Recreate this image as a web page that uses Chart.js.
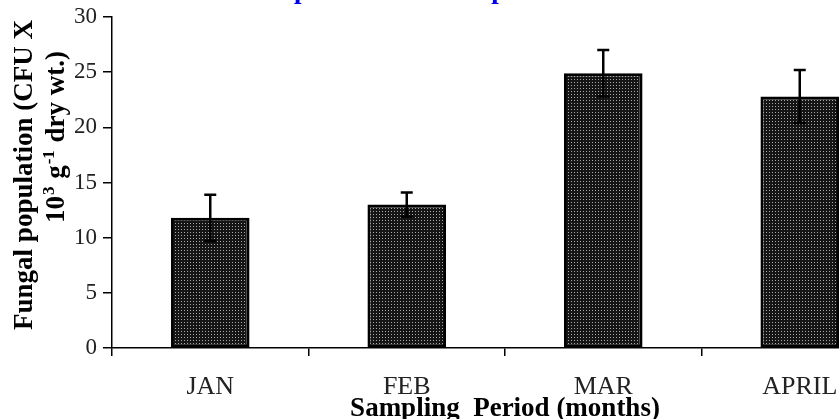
<!DOCTYPE html>
<html>
<head>
<meta charset="utf-8">
<script src="https://cdn.jsdelivr.net/npm/chart.js@4.4.1/dist/chart.umd.min.js"></script>
<style>
    html, body { margin: 0; padding: 0; background: #fff; overflow: hidden; }
    #wrap { width: 839px; height: 419px; overflow: hidden; }
</style>
</head>
<body>
<div id="wrap"><canvas id="chart" width="900" height="419"></canvas></div>
<script>
// --- Data ---
const months = ["JAN", "FEB", "MAR", "APRIL"];
const fungalMean = [11.8, 13.0, 24.9, 22.8];
const fungalError = [2.1, 1.1, 2.1, 2.4];
const yTickValues = [0, 5, 10, 15, 20, 25, 30];

const chartTitle = "Mould counts in compost and soil samples";
const yTitleLine1 = "Fungal population (CFU X";
const xTitle = "Sampling  Period (months)";

const serif = "'Liberation Serif', 'Times New Roman', 'DejaVu Serif', serif";

// dotted dark fill like the printed bars
function makeDotPattern() {
    const tile = document.createElement("canvas");
    tile.width = 3;
    tile.height = 3;
    const t = tile.getContext("2d");
    t.fillStyle = "#151515";
    t.fillRect(0, 0, 3, 3);
    t.fillStyle = "#a8a8a8";
    t.fillRect(1, 1, 1, 1);
    return document.getElementById("chart").getContext("2d").createPattern(tile, "repeat");
}

// error bars drawn from the y scale
const errorBars = {
    id: "errorBars",
    afterDatasetsDraw(chart) {
        const ctx = chart.ctx;
        const yScale = chart.scales.y;
        const meta = chart.getDatasetMeta(0);
        ctx.save();
        ctx.strokeStyle = "#000";
        ctx.lineWidth = 2.5;
        meta.data.forEach((bar, i) => {
            const top = yScale.getPixelForValue(fungalMean[i] + fungalError[i]);
            const bottom = yScale.getPixelForValue(fungalMean[i] - fungalError[i]);
            const half = 6;
            ctx.beginPath();
            ctx.moveTo(bar.x, top);
            ctx.lineTo(bar.x, bottom);
            ctx.moveTo(bar.x - half, top);
            ctx.lineTo(bar.x + half, top);
            ctx.moveTo(bar.x - half, bottom);
            ctx.lineTo(bar.x + half, bottom);
            ctx.stroke();
        });
        ctx.restore();
    }
};

// titles that sit partly outside the plot (top title is cut off in the source)
const extraText = {
    id: "extraText",
    afterDraw(chart) {
        const ctx = chart.ctx;
        ctx.save();

        // top title, only the descenders show
        ctx.font = "bold 27px " + serif;
        ctx.fillStyle = "#0000ee";
        ctx.textAlign = "left";
        ctx.textBaseline = "alphabetic";
        const pre = ctx.measureText("Mould counts in com").width;
        ctx.fillText(chartTitle, 294 - pre, -2);

        // y axis title, two lines rotated
        ctx.fillStyle = "#000";
        ctx.translate(25, 175);
        ctx.rotate(-Math.PI / 2);
        ctx.textAlign = "center";
        ctx.textBaseline = "middle";
        ctx.fillText(yTitleLine1, 0, 0);
        ctx.rotate(Math.PI / 2);
        ctx.translate(-25, -175);

        // second line with superscripts
        const segs = [
            { t: "10", sup: false },
            { t: "3", sup: true },
            { t: " g", sup: false },
            { t: "-1", sup: true },
            { t: " dry wt.)", sup: false }
        ];
        const big = "bold 27px " + serif;
        const small = "bold 17px " + serif;
        let total = 0;
        segs.forEach(s => {
            ctx.font = s.sup ? small : big;
            s.w = ctx.measureText(s.t).width;
            total += s.w;
        });
        ctx.translate(55, 135);
        ctx.rotate(-Math.PI / 2);
        ctx.textAlign = "left";
        ctx.textBaseline = "alphabetic";
        let x = -total / 2 - 4;
        segs.forEach(s => {
            ctx.font = s.sup ? small : big;
            ctx.fillText(s.t, x, s.sup ? -1 : 9);
            x += s.w + 1;
        });
        ctx.restore();
    }
};

const ctx = document.getElementById("chart").getContext("2d");
new Chart(ctx, {
    type: "bar",
    data: {
        labels: months,
        datasets: [{
            data: fungalMean,
            backgroundColor: makeDotPattern(),
            borderColor: "#000",
            borderWidth: 3,
            borderSkipped: false,
            categoryPercentage: 1,
            barPercentage: 0.4
        }]
    },
    options: {
        responsive: false,
        animation: false,
        devicePixelRatio: 1,
        layout: { padding: { left: 0, top: 17, right: 2, bottom: 0 } },
        plugins: {
            legend: { display: false },
            tooltip: { enabled: false },
            title: { display: false }
        },
        scales: {
            x: {
                grid: {
                    offset: true,
                    drawOnChartArea: false,
                    tickLength: 8,
                    color: "#000",
                    lineWidth: 1.5
                },
                border: { color: "#000", width: 1.5 },
                ticks: {
                    color: "#222",
                    padding: 16,
                    font: { family: serif, size: 26 }
                },
                title: {
                    display: true,
                    text: xTitle,
                    color: "#000",
                    padding: { top: 0, bottom: -4 },
                    font: { family: serif, size: 27, weight: "bold", lineHeight: 1 }
                },
                afterFit(scale) {
                    scale.height = 71;
                    scale.paddingLeft = 0;
                    scale.paddingRight = 0;
                }
            },
            y: {
                min: 0,
                max: 30,
                afterBuildTicks(scale) {
                    scale.ticks = yTickValues.map(v => ({ value: v }));
                },
                grid: {
                    drawOnChartArea: false,
                    tickLength: 9,
                    color: "#000",
                    lineWidth: 1.5
                },
                border: { color: "#000", width: 1.5 },
                ticks: {
                    color: "#222",
                    padding: 6,
                    font: { family: serif, size: 23 }
                },
                afterFit(scale) {
                    scale.width = 112;
                    scale.paddingTop = 0;
                    scale.paddingBottom = 0;
                }
            }
        }
    },
    plugins: [errorBars, extraText]
});
</script>
</body>
</html>
